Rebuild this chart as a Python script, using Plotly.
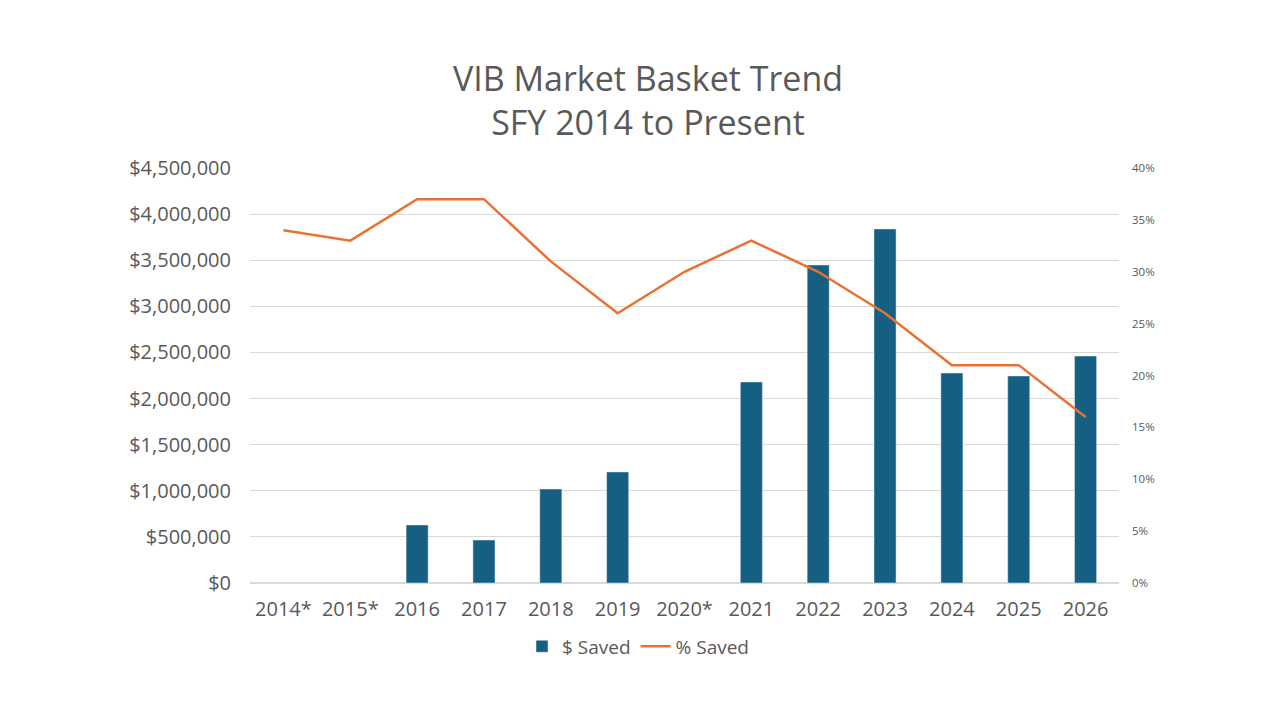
import plotly.graph_objects as go

years = ["2014*", "2015*", "2016", "2017", "2018", "2019", "2020*", "2021",
         "2022", "2023", "2024", "2025", "2026"]
dollars_saved = [None, None, 629000, 466000, 1019000, 1204000, None, 2180000,
                 3448000, 3839000, 2277000, 2245000, 2461000]
pct_saved = [0.34, 0.33, 0.37, 0.37, 0.31, 0.26, 0.30, 0.33, 0.30, 0.26, 0.21, 0.21, 0.16]

BLUE = "#156082"
ORANGE = "#E97132"
GREY = "#595959"
FONT = "Open Sans"

fig = go.Figure()
fig.add_trace(go.Bar(x=years, y=dollars_saved, name="$ Saved", marker_color=BLUE,
                     yaxis="y"))
fig.add_trace(go.Scatter(x=years, y=pct_saved, name="% Saved", mode="lines",
                         line=dict(color=ORANGE, width=2.5), yaxis="y2"))

fig.update_layout(
    width=1280, height=720,
    paper_bgcolor="white", plot_bgcolor="white",
    font=dict(family=FONT, color=GREY),
    title=dict(text="VIB Market Basket Trend<br>SFY 2014 to Present",
               x=0.5, xanchor="center", y=0.885, yanchor="top",
               font=dict(size=34, color=GREY, family=FONT)),
    margin=dict(l=242, r=169, t=160, b=145),
    bargap=0.67,
    showlegend=True,
    legend=dict(orientation="h", x=0.4465, xanchor="center",
                y=-0.107, yanchor="top", font=dict(size=19, color=GREY)),
    xaxis=dict(type="category", tickfont=dict(size=20, color=GREY),
               showline=False, showgrid=False, ticks="", ticklabelstandoff=12),
    yaxis=dict(range=[0, 4500000], dtick=500000, tickprefix="$", tickformat=",d",
               tickfont=dict(size=20, color=GREY), showgrid=True,
               gridcolor="#D9D9D9", gridwidth=1, zeroline=True,
               zerolinecolor="#D9D9D9", ticks="", showline=False,
               ticklabelstandoff=18),
    yaxis2=dict(range=[0, 0.4], dtick=0.05, tickformat=".0%", overlaying="y",
                side="right", showgrid=False, zeroline=False,
                tickfont=dict(size=11.5, color=GREY), ticks="", showline=False,
                ticklabelstandoff=12),
)

fig.write_html("out.html")
